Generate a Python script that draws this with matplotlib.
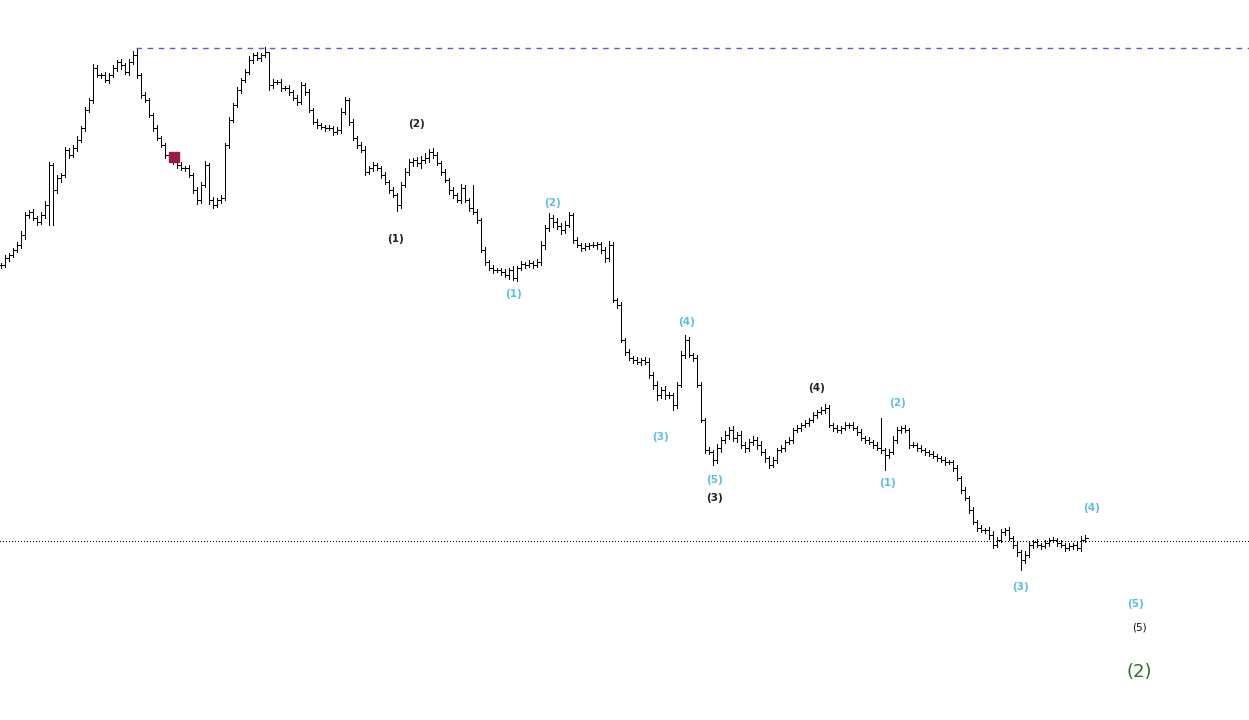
import matplotlib
matplotlib.use("Agg")
import matplotlib.pyplot as plt
from matplotlib.collections import LineCollection

# closes (arbitrary price units), one bar every 4 px
closes = [
    455, 462, 465, 470, 475, 485, 505, 508, 502, 498, 505, 515, 555, 530, 542, 545, 570, 565, 572, 580, 592, 610, 620, 652, 645,
    645, 640, 645, 652, 658, 655, 648, 658, 665, 645, 625, 620, 605, 592, 582, 575, 565, 560, 558, 555, 552, 552, 545, 530, 520,
    535, 555, 520, 515, 520, 522, 575, 600, 615, 630, 640, 648, 660, 665, 662, 665, 668, 635, 638, 638, 632, 632, 628, 622, 618,
    635, 628, 610, 598, 595, 593, 592, 592, 588, 590, 608, 620, 598, 582, 575, 570, 548, 552, 555, 552, 545, 538, 530, 525, 515,
    535, 548, 558, 560, 557, 560, 562, 568, 565, 557, 548, 540, 530, 525, 520, 532, 520, 512, 508, 500, 470, 458, 452, 450, 450,
    448, 445, 450, 442, 452, 456, 455, 457, 455, 458, 475, 492, 502, 498, 494, 490, 495, 505, 480, 475, 472, 474, 475, 475, 476,
    470, 462, 475, 420, 415, 380, 368, 362, 360, 358, 360, 358, 345, 335, 325, 330, 325, 325, 315, 335, 365, 380, 365, 362, 335,
    300, 270, 268, 260, 272, 280, 285, 290, 282, 285, 275, 272, 278, 280, 275, 268, 262, 255, 260, 270, 272, 278, 280, 290, 292,
    295, 297, 300, 305, 308, 310, 312, 295, 292, 290, 292, 295, 295, 292, 288, 282, 280, 278, 275, 272, 270, 265, 268, 280, 290,
    292, 290, 275, 275, 272, 270, 268, 266, 264, 262, 260, 258, 258, 252, 242, 230, 222, 210, 198, 192, 190, 190, 185, 175, 180,
    188, 190, 182, 175, 168, 160, 165, 175, 178, 175, 174, 177, 180, 180, 177, 175, 172, 174, 175, 172, 180, 182,
]
wick_up = [
    2, 3, 2, 2, 3, 4, 3, 2, 3, 2, 3, 4, 3, 2, 3, 2, 3, 2, 3, 4, 2, 3, 2, 4, 3,
    2, 3, 2, 3, 2, 3, 2, 3, 4, 7, 2, 3, 2, 2, 3, 2, 2, 3, 2, 2, 3, 2, 3, 2, 3,
    3, 4, 2, 3, 2, 3, 2, 3, 2, 3, 2, 3, 4, 2, 3, 2, 5, 0, 3, 2, 3, 2, 3, 2, 3,
    3, 2, 3, 2, 3, 2, 2, 3, 2, 3, 4, 3, 2, 3, 2, 3, 4, 2, 3, 2, 2, 3, 2, 3, 2,
    3, 4, 3, 2, 3, 4, 5, 3, 4, 3, 2, 3, 2, 3, 2, 4, 3, 2, 23, 3, 2, 3, 2, 3, 2,
    2, 3, 2, 4, 2, 3, 2, 3, 2, 3, 4, 3, 5, 3, 4, 3, 4, 3, 2, 3, 2, 3, 2, 3, 2,
    2, 3, 4, 3, 2, 3, 2, 3, 2, 3, 2, 3, 4, 3, 4, 3, 4, 3, 2, 3, 4, 5, 3, 2, 3,
    3, 2, 3, 2, 4, 3, 4, 3, 4, 3, 4, 3, 3, 4, 3, 4, 3, 2, 3, 2, 3, 2, 3, 2, 3,
    2, 3, 2, 3, 2, 3, 4, 3, 2, 3, 2, 3, 2, 3, 2, 3, 2, 3, 2, 3, 30, 2, 3, 4, 3,
    2, 3, 2, 3, 2, 3, 2, 2, 3, 2, 2, 3, 2, 2, 3, 2, 3, 2, 3, 2, 3, 2, 3, 4, 3,
    3, 2, 3, 2, 3, 2, 4, 3, 2, 3, 2, 3, 2, 3, 2, 3, 2, 3, 2, 3, 4, 3,
]
wick_dn = [
    3, 2, 3, 2, 2, 3, 4, 3, 2, 3, 2, 3, 20, 35, 3, 4, 2, 3, 2, 3, 2, 3, 2, 3, 2,
    3, 2, 3, 2, 3, 4, 2, 3, 2, 3, 3, 2, 2, 3, 2, 2, 3, 2, 2, 3, 2, 3, 2, 3, 4,
    3, 2, 4, 3, 2, 3, 2, 3, 2, 2, 3, 2, 2, 3, 2, 3, 2, 5, 3, 2, 3, 2, 3, 2, 3,
    2, 3, 2, 2, 3, 2, 3, 2, 3, 2, 3, 2, 3, 2, 3, 2, 3, 2, 3, 2, 3, 2, 3, 2, 6,
    3, 2, 3, 4, 3, 5, 3, 4, 3, 2, 3, 2, 4, 3, 2, 3, 2, 3, 2, 3, 2, 3, 2, 3, 2,
    3, 2, 4, 2, 3, 2, 3, 2, 3, 2, 3, 4, 3, 5, 3, 4, 3, 2, 3, 2, 3, 2, 3, 2, 4,
    3, 4, 3, 2, 3, 2, 3, 2, 3, 2, 3, 2, 3, 4, 5, 3, 4, 3, 5, 3, 2, 3, 2, 3, 2,
    2, 3, 2, 5, 3, 4, 3, 4, 3, 4, 3, 4, 3, 3, 4, 3, 4, 3, 2, 3, 2, 3, 2, 3, 2,
    3, 2, 3, 2, 3, 2, 3, 2, 3, 2, 3, 2, 3, 2, 3, 2, 3, 2, 3, 2, 3, 15, 3, 2, 3,
    3, 2, 3, 2, 3, 2, 3, 2, 2, 3, 2, 3, 2, 3, 2, 3, 2, 3, 2, 3, 2, 3, 4, 3, 2,
    2, 3, 2, 3, 4, 10, 3, 2, 3, 2, 3, 2, 3, 2, 3, 2, 3, 2, 3, 2, 3, 2,
]

# wave labels: text, bar index, price, colour kind
wave_text = ["(2)", "(1)", "(2)", "(1)", "(4)", "(3)", "(5)", "(3)", "(4)", "(2)", "(1)", "(4)", "(3)", "(5)"]
wave_bar = [104, 98.75, 138, 128.25, 171.5, 165, 178.5, 178.5, 204, 224.25, 221.75, 272.75, 255, 283.75]
wave_price = [596, 481, 517, 426, 398, 283, 240, 222, 332, 317, 237, 212, 133, 116]
wave_kind = ["major", "major", "minor", "minor", "minor", "minor", "minor", "major", "major", "minor", "minor", "minor", "minor", "minor"]

top_level = 672      # dashed line (old high)
support_level = 179  # dotted line
marker_bar, marker_price = 43.25, 563

opens = [closes[0]] + closes[:-1]
highs = [max(o, c) + u for o, c, u in zip(opens, closes, wick_up)]
lows = [min(o, c) - d for o, c, d in zip(opens, closes, wick_dn)]

fig = plt.figure(figsize=(12.49, 7.2), dpi=100)
ax = fig.add_axes([0, 0, 1, 1])

segs = []
tick = 0.7
for i in range(len(closes)):
    segs.append([(i, lows[i]), (i, highs[i])])
    segs.append([(i - tick, opens[i]), (i, opens[i])])
    segs.append([(i, closes[i]), (i + tick, closes[i])])
ax.add_collection(LineCollection(segs, colors="black", linewidths=0.55, antialiaseds=False))

ax.plot([33.75, 320], [top_level, top_level], ls=(0, (4, 4)), color="#5a5ae0", lw=1.0)
ax.axhline(support_level, ls=(0, (1.3, 3.5)), color="black", lw=0.55, antialiased=False)
ax.plot(marker_bar, marker_price, "s", color="#98194a", ms=6.5)

colors = {"major": "#222222", "minor": "#5bc0de"}
for t, b, p, k in zip(wave_text, wave_bar, wave_price, wave_kind):
    ax.text(b, p, t, color=colors[k], fontsize=7.5, fontweight="bold",
            ha="center", va="center")
ax.text(284.5, 93, "(5)", color="#111111", fontsize=7.5, ha="center", va="center")
ax.text(284.5, 48, "(2)", color="#2e6b1f", fontsize=13, ha="center", va="center",
        family=["Liberation Sans Narrow", "DejaVu Sans"])

ax.set_xlim(-0.25, 1249 / 4 - 0.25)
ax.set_ylim(0, 720)
ax.axis("off")

fig.savefig("out.png", dpi=100, facecolor="white")
